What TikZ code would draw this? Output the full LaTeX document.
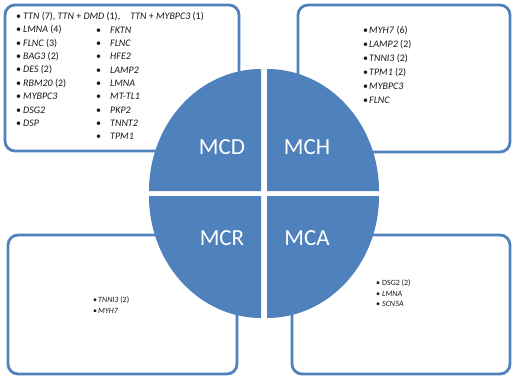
\documentclass[tikz,border=0pt]{standalone}
\usepackage{fontspec}
\setmainfont{Carlito}
\definecolor{mcblue}{HTML}{4F81BD}

\begin{document}
\begin{tikzpicture}[x=1pt, y=-1pt,
  panel/.style={draw=mcblue, line width=2.8pt, rounded corners=10pt, fill=white},
  quad/.style={fill=mcblue},
  quadlabel/.style={text=white, inner sep=0pt, font=\fontsize{23}{23}\selectfont},
  gene/.style={anchor=west, inner sep=0pt, text=black!90, font=\fontsize{10}{11}\selectfont},
  smallgene/.style={gene, font=\fontsize{8}{9}\selectfont}]
\useasboundingbox (0,0) rectangle (513,385);
\draw[panel] (5,5) rectangle (239,151);
\draw[panel] (298,5) rectangle (510,152);
\draw[panel] (8,235) rectangle (237,374);
\draw[panel] (292,235) rectangle (510,374);
\foreach \cx/\cy/\dx/\sa/\ea in {261/191/-112/180/90, 267/191/112/0/90, 261/196/-112/180/270, 267/196/112/0/-90}
  \fill[quad] (\cx,\cy) -- ++(\dx,0) arc[start angle=\sa, end angle=\ea, x radius=112pt, y radius=122pt] -- cycle;
\node[quadlabel] (mcd) at (222,147.5) {MCD};
\node[quadlabel] (mch) at (307,147.5) {MCH};
\node[quadlabel] (mcr) at (222,238) {MCR};
\node[quadlabel] (mca) at (307,238) {MCA};
\node[gene] (ttn) at (16,16.7) {\makebox[7pt][l]{\textbullet}\textit{TTN} (7), \textit{TTN} + \textit{DMD} (1),\quad \textit{TTN} + \textit{MYBPC3} (1)};
\foreach \txt [count=\i] in {{\textit{LMNA} (4)}, {\textit{FLNC} (3)}, {\textit{BAG3} (2)}, {\textit{DES} (2)}, {\textit{RBM20} (2)}, {\textit{MYBPC3}}, {\textit{DSG2}}, {\textit{DSP}}}
  \node[gene] (dcm\i) at (16,16.7+13.3*\i) {\makebox[7pt][l]{\textbullet}\txt};
\foreach \txt [count=\i] in {FKTN, FLNC, HFE2, LAMP2, LMNA, MT-TL1, PKP2, TNNT2, TPM1}
  \node[gene] (dcmb\i) at (96,16.7+13.3*\i) {\makebox[14pt][l]{\textbullet}\textit{\txt}};
\foreach \txt [count=\i] in {{\textit{MYH7} (6)}, {\textit{LAMP2} (2)}, {\textit{TNNI3} (2)}, {\textit{TPM1} (2)}, {\textit{MYBPC3}}, {\textit{FLNC}}}
  \node[gene] (hcm\i) at (363,17+13.8*\i) {\makebox[6pt][l]{\textbullet}\txt};
\node[smallgene] (rcm1) at (93,300) {\makebox[5pt][l]{\textbullet}\textit{TNNI3} (2)};
\node[smallgene] (rcm2) at (93,310.5) {\makebox[5pt][l]{\textbullet}\textit{MYH7}};
\node[smallgene] (acm1) at (376,283) {\makebox[6pt][l]{\textbullet}DSG2 (2)};
\node[smallgene] (acm2) at (376,293.5) {\makebox[6pt][l]{\textbullet}\textit{LMNA}};
\node[smallgene] (acm3) at (376,304) {\makebox[6pt][l]{\textbullet}\textit{SCN5A}};
\end{tikzpicture}
\end{document}
